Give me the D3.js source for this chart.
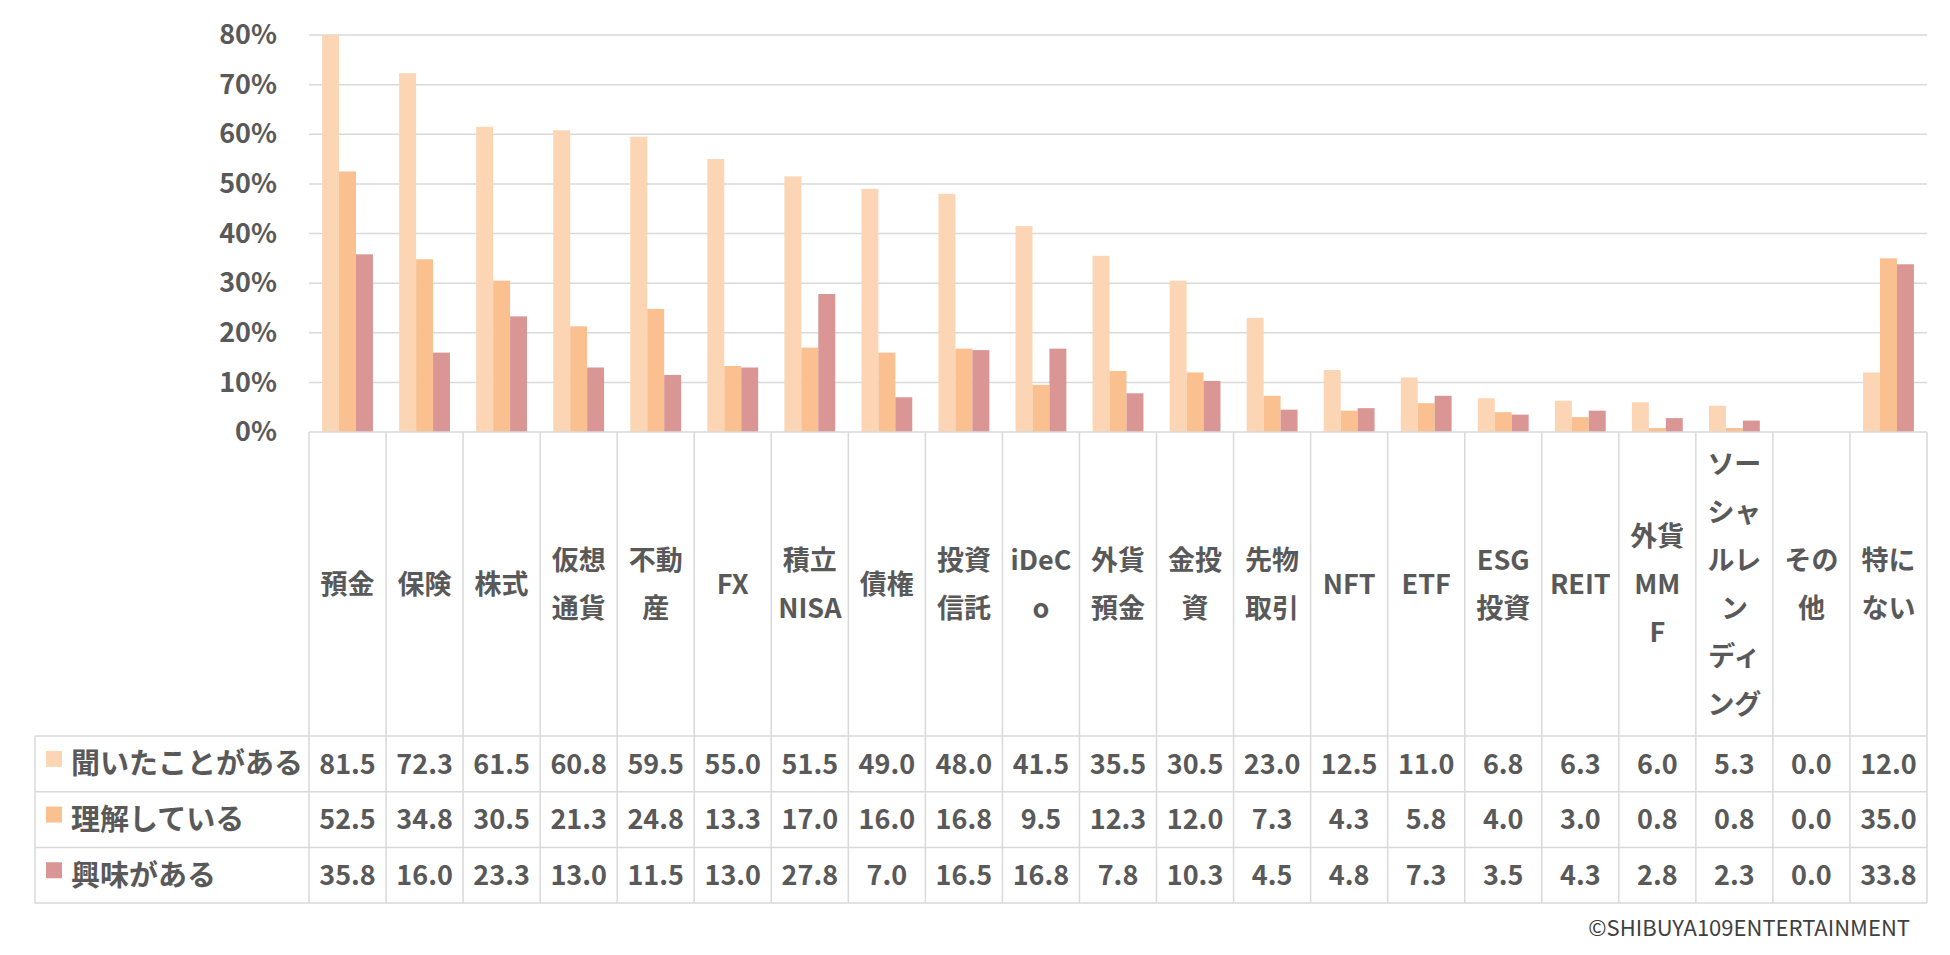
<!DOCTYPE html>
<html>
<head>
    <meta charset="utf-8">
    <title>金融商品の認知・理解・興味</title>
    <script src="https://d3js.org/d3.v7.min.js"></script>
    <style>
        body { margin: 0; background: #ffffff; }
        svg { display: block; }
    </style>
</head>
<body>
    <script type="text/javascript">
    // categories ("\n" marks the line breaks used in the table header)
    const categories = ["預金", "保険", "株式", "仮想\n通貨", "不動\n産", "FX", "積立\nNISA", "債権",
        "投資\n信託", "iDeC\no", "外貨\n預金", "金投\n資", "先物\n取引", "NFT", "ETF", "ESG\n投資",
        "REIT", "外貨\nMM\nF", "ソー\nシャ\nルレ\nン\nディ\nング", "その\n他", "特に\nない"];

    const seriesNames = ["聞いたことがある", "理解している", "興味がある"];
    const seriesColors = ["#fcd5b5", "#fac090", "#d99694"];

    const heard = [81.5, 72.3, 61.5, 60.8, 59.5, 55.0, 51.5, 49.0, 48.0, 41.5, 35.5, 30.5, 23.0, 12.5, 11.0, 6.8, 6.3, 6.0, 5.3, 0.0, 12.0];
    const understand = [52.5, 34.8, 30.5, 21.3, 24.8, 13.3, 17.0, 16.0, 16.8, 9.5, 12.3, 12.0, 7.3, 4.3, 5.8, 4.0, 3.0, 0.8, 0.8, 0.0, 35.0];
    const interest = [35.8, 16.0, 23.3, 13.0, 11.5, 13.0, 27.8, 7.0, 16.5, 16.8, 7.8, 10.3, 4.5, 4.8, 7.3, 3.5, 4.3, 2.8, 2.3, 0.0, 33.8];

    const yTicks = [0, 10, 20, 30, 40, 50, 60, 70, 80];

    const series = [heard, understand, interest];

    const width = 1950;
    const height = 955;
    const plot = {left: 309, right: 1927, top: 35, bottom: 432};
    const tableTop = 736;
    const rowH = 55.7;
    const legendLeft = 35;
    const textColor = "#595959";
    const lineColor = "#d9d9d9";
    const font = "'Noto Sans CJK JP', 'Noto Sans', sans-serif";

    const svg = d3.select("body")
        .append("svg")
        .attr("width", width)
        .attr("height", height)
        .style("font-family", font);

    const x = d3.scaleBand()
        .domain(d3.range(categories.length))
        .range([plot.left, plot.right]);

    const xInner = d3.scaleBand()
        .domain(d3.range(series.length))
        .range([x.bandwidth() * 0.17, x.bandwidth() * 0.83]);

    const y = d3.scaleLinear()
        .domain([0, 80])
        .range([plot.bottom, plot.top]);

    // gridlines
    svg.append("g")
        .selectAll("line")
        .data(yTicks.filter(d => d > 0))
        .join("line")
        .attr("x1", plot.left)
        .attr("x2", plot.right)
        .attr("y1", d => y(d))
        .attr("y2", d => y(d))
        .attr("stroke", lineColor)
        .attr("stroke-width", 1.5);

    // y axis labels
    const yAxis = svg.append("g")
        .attr("transform", `translate(${plot.left},0)`)
        .call(d3.axisLeft(y).tickValues(yTicks).tickSize(0).tickPadding(32).tickFormat(d => d + "%"));
    yAxis.select(".domain").remove();
    yAxis.selectAll("text")
        .attr("fill", textColor)
        .style("font-family", font)
        .style("font-size", "27px")
        .style("font-weight", "bold");

    // bars
    svg.append("defs").append("clipPath")
        .attr("id", "plotClip")
        .append("rect")
        .attr("x", plot.left)
        .attr("y", plot.top)
        .attr("width", plot.right - plot.left)
        .attr("height", plot.bottom - plot.top);

    const groups = svg.append("g")
        .attr("clip-path", "url(#plotClip)")
        .selectAll("g")
        .data(series)
        .join("g")
        .attr("fill", (d, i) => seriesColors[i]);

    groups.each(function(values, si) {
        d3.select(this).selectAll("rect")
            .data(values)
            .join("rect")
            .attr("x", (d, i) => x(i) + xInner(si))
            .attr("width", xInner.bandwidth())
            .attr("y", d => y(d))
            .attr("height", d => y(0) - y(d));
    });

    // data table
    const table = svg.append("g")
        .attr("stroke", lineColor)
        .attr("stroke-width", 1.5);

    const hLines = [plot.bottom, tableTop, tableTop + rowH, tableTop + 2 * rowH, tableTop + 3 * rowH];
    table.selectAll("line.h")
        .data(hLines)
        .join("line")
        .attr("class", "h")
        .attr("x1", (d, i) => i === 0 ? plot.left : legendLeft)
        .attr("x2", plot.right)
        .attr("y1", d => d)
        .attr("y2", d => d);

    const vLines = d3.range(categories.length + 1).map(i => i < categories.length ? x(i) : plot.right);
    table.selectAll("line.v")
        .data(vLines)
        .join("line")
        .attr("class", "v")
        .attr("x1", d => d)
        .attr("x2", d => d)
        .attr("y1", plot.bottom)
        .attr("y2", tableTop + 3 * rowH);

    table.append("line")
        .attr("x1", legendLeft)
        .attr("x2", legendLeft)
        .attr("y1", tableTop)
        .attr("y2", tableTop + 3 * rowH);

    // category header labels
    const headerMid = (plot.bottom + tableTop) / 2;
    const lineGap = 48;
    const header = svg.append("g")
        .attr("fill", textColor)
        .style("font-size", "27px")
        .style("font-weight", "bold")
        .attr("text-anchor", "middle");

    header.selectAll("text")
        .data(categories)
        .join("text")
        .attr("x", (d, i) => x(i) + x.bandwidth() / 2)
        .each(function(d) {
            const lines = d.split("\n");
            const start = headerMid - (lines.length - 1) * lineGap / 2;
            d3.select(this).selectAll("tspan")
                .data(lines)
                .join("tspan")
                .attr("x", d3.select(this).attr("x"))
                .attr("y", (l, j) => start + j * lineGap)
                .attr("dy", "0.36em")
                .text(l => l);
        });

    // value rows
    const rows = svg.append("g")
        .attr("fill", textColor)
        .style("font-size", "27px")
        .style("font-weight", "bold");

    series.forEach((values, si) => {
        const cy = tableTop + rowH * si + rowH / 2;
        rows.append("rect")
            .attr("x", 46)
            .attr("y", cy - 13)
            .attr("width", 16)
            .attr("height", 16)
            .attr("fill", seriesColors[si]);
        rows.append("text")
            .attr("x", 71)
            .attr("y", cy)
            .attr("dy", "0.36em")
            .style("font-size", "29px")
            .text(seriesNames[si]);
        rows.append("g")
            .attr("text-anchor", "middle")
            .selectAll("text")
            .data(values)
            .join("text")
            .attr("x", (d, i) => x(i) + x.bandwidth() / 2)
            .attr("y", cy)
            .attr("dy", "0.36em")
            .text(d => d.toFixed(1));
    });

    // credit
    svg.append("text")
        .attr("x", 1910)
        .attr("y", 928)
        .attr("dy", "0.36em")
        .attr("text-anchor", "end")
        .attr("fill", "#404040")
        .style("font-size", "22px")
        .text("©SHIBUYA109ENTERTAINMENT");
    </script>
</body>
</html>
